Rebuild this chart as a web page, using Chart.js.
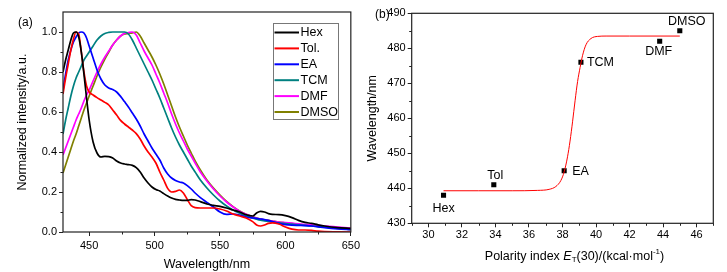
<!DOCTYPE html>
<html>
<head>
<meta charset="utf-8">
<script src="https://cdn.jsdelivr.net/npm/chart.js@4.4.1/dist/chart.umd.min.js"></script>
<style>
  html, body { margin: 0; padding: 0; background: #fff; }
  #wrap { position: relative; width: 727px; height: 272px; }
  #chartA { position: absolute; left: 0; top: 0; }
  #chartB { position: absolute; left: 363px; top: 0; }
</style>
</head>
<body>
<div id="wrap">
  <canvas id="chartA" width="363" height="272"></canvas>
  <canvas id="chartB" width="364" height="272"></canvas>
</div>
<script>
// ---- panel (a): normalized emission spectra ----
const wavelength = [430, 432, 434, 436, 438, 440, 442, 444, 446, 448, 450, 453, 456, 459, 462, 465, 468, 471, 474, 477,
  480, 483, 486, 489, 492, 495, 498, 501, 504, 507, 510, 513, 516, 519, 522, 525, 528, 531, 535, 540,
  545, 550, 555, 560, 565, 570, 575, 578, 581, 584, 587, 590, 595, 600, 605, 610, 615, 620, 625, 630, 640, 650];

const hexVals = [0.80, 0.86, 0.91, 0.96, 0.995, 1.0, 0.975, 0.90, 0.79, 0.67, 0.56, 0.45, 0.395, 0.375, 0.378, 0.377, 0.37, 0.355, 0.345, 0.34,
  0.337, 0.333, 0.322, 0.30, 0.27, 0.245, 0.225, 0.212, 0.205, 0.192, 0.18, 0.17, 0.163, 0.16, 0.158, 0.158, 0.162, 0.16, 0.152, 0.14,
  0.133, 0.128, 0.12, 0.11, 0.10, 0.086, 0.08, 0.095, 0.103, 0.10, 0.092, 0.088, 0.087, 0.082, 0.072, 0.058, 0.048, 0.043, 0.036, 0.03, 0.022, 0.018];
const tolVals = [0.69, 0.77, 0.84, 0.91, 0.965, 1.0, 0.99, 0.90, 0.80, 0.73, 0.70, 0.685, 0.672, 0.66, 0.648, 0.635, 0.61, 0.585, 0.558, 0.54,
  0.525, 0.51, 0.492, 0.465, 0.43, 0.40, 0.375, 0.345, 0.30, 0.26, 0.218, 0.20, 0.203, 0.21, 0.195, 0.162, 0.132, 0.122, 0.12, 0.12,
  0.12, 0.115, 0.105, 0.09, 0.08, 0.07, 0.052, 0.035, 0.03, 0.035, 0.043, 0.046, 0.04, 0.025, 0.014, 0.01, 0.01, 0.008, 0.004, 0.002, 0.001, 0.0];
const eaVals = [0.71, 0.79, 0.86, 0.91, 0.95, 0.975, 0.995, 1.0, 0.995, 0.97, 0.93, 0.87, 0.81, 0.765, 0.735, 0.72, 0.712, 0.70, 0.678, 0.652,
  0.625, 0.595, 0.565, 0.53, 0.49, 0.455, 0.42, 0.39, 0.36, 0.32, 0.29, 0.27, 0.258, 0.25, 0.245, 0.232, 0.215, 0.195, 0.172, 0.148,
  0.125, 0.10, 0.088, 0.09, 0.085, 0.075, 0.07, 0.068, 0.065, 0.062, 0.058, 0.052, 0.043, 0.037, 0.034, 0.033, 0.032, 0.03, 0.026, 0.022, 0.016, 0.012];
const tcmVals = [0.49, 0.56, 0.62, 0.68, 0.73, 0.77, 0.80, 0.83, 0.86, 0.88, 0.90, 0.93, 0.96, 0.98, 0.993, 0.998, 1.0, 1.0, 1.0, 1.0,
  0.99, 0.96, 0.92, 0.88, 0.84, 0.80, 0.76, 0.715, 0.67, 0.62, 0.57, 0.52, 0.475, 0.435, 0.40, 0.365, 0.33, 0.30, 0.26, 0.22,
  0.185, 0.155, 0.13, 0.11, 0.094, 0.08, 0.07, 0.064, 0.059, 0.056, 0.053, 0.05, 0.046, 0.042, 0.039, 0.036, 0.033, 0.03, 0.027, 0.024, 0.019, 0.014];
const dmfVals = [0.385, 0.42, 0.455, 0.49, 0.525, 0.56, 0.59, 0.62, 0.655, 0.685, 0.71, 0.755, 0.80, 0.84, 0.875, 0.905, 0.935, 0.96, 0.98, 0.993,
  0.997, 1.0, 0.985, 0.945, 0.905, 0.87, 0.835, 0.79, 0.745, 0.695, 0.645, 0.59, 0.54, 0.495, 0.455, 0.415, 0.38, 0.345, 0.30, 0.255,
  0.215, 0.18, 0.15, 0.125, 0.104, 0.088, 0.075, 0.069, 0.064, 0.06, 0.057, 0.054, 0.05, 0.047, 0.044, 0.041, 0.038, 0.036, 0.033, 0.03, 0.025, 0.02];
const dmsoVals = [0.295, 0.335, 0.375, 0.415, 0.455, 0.49, 0.53, 0.57, 0.61, 0.645, 0.68, 0.73, 0.78, 0.825, 0.865, 0.90, 0.935, 0.96, 0.98, 0.99,
  0.993, 0.996, 1.0, 0.98, 0.945, 0.91, 0.875, 0.835, 0.79, 0.74, 0.685, 0.63, 0.575, 0.525, 0.48, 0.435, 0.395, 0.355, 0.31, 0.26,
  0.22, 0.185, 0.153, 0.127, 0.105, 0.089, 0.076, 0.07, 0.065, 0.061, 0.058, 0.055, 0.05, 0.046, 0.042, 0.038, 0.035, 0.032, 0.029, 0.025, 0.018, 0.012];

const solventNames = ["Hex", "Tol.", "EA", "TCM", "DMF", "DMSO"];
const solventColors = ["#000000", "#ff0000", "#0000ff", "#008080", "#ff00ff", "#808000"];
const spectra = [hexVals, tolVals, eaVals, tcmVals, dmfVals, dmsoVals];

const xTicksA = [450, 500, 550, 600, 650];
const xMinorA = [475, 525, 575, 625];
const yTicksA = [0, 0.2, 0.4, 0.6, 0.8, 1.0];
const yMinorA = [0.1, 0.3, 0.5, 0.7, 0.9];

// ---- panel (b): emission peak vs. solvent polarity ----
const polarity = [30.9, 33.9, 38.1, 39.1, 43.8, 45.0];
const peakWl = [438, 441, 445, 476, 482, 485];
const pointNames = ["Hex", "Tol", "EA", "TCM", "DMF", "DMSO"];

// fitted sigmoid
const fitX = [30.9, 33, 35, 36.5, 37.2, 37.6, 37.9, 38.1, 38.3, 38.45, 38.6, 38.75, 38.9, 39.05, 39.2, 39.4, 39.7, 40.1, 40.6, 42, 45];
const fitY = [439.3, 439.3, 439.3, 439.4, 439.7, 440.5, 442.2, 444.7, 449, 453.5, 459, 465, 470.5, 474.5, 478, 481, 482.8, 483.4, 483.5, 483.5, 483.5];

const xTicksB = [30, 32, 34, 36, 38, 40, 42, 44, 46];
const xMinorB = [29, 31, 33, 35, 37, 39, 41, 43, 45, 47];
const yTicksB = [430, 440, 450, 460, 470, 480, 490];
const yMinorB = [435, 445, 455, 465, 475, 485];

const FONT = "'Liberation Sans', Arial, sans-serif";
Chart.defaults.font.family = FONT;
Chart.defaults.color = "#000";

// box around the plot + short minor ticks
const framePlugin = {
  id: "frame",
  afterDatasetsDraw(chart, args, opts) {
    const { ctx, chartArea: a, scales } = chart;
    ctx.save();
    ctx.strokeStyle = "#222";
    ctx.lineWidth = 1.2;
    ctx.strokeRect(a.left, a.top, a.right - a.left, a.bottom - a.top);
    ctx.lineWidth = 1;
    ctx.beginPath();
    (opts.xMinor || []).forEach(v => {
      const x = Math.round(scales.x.getPixelForValue(v)) + 0.5;
      ctx.moveTo(x, a.bottom); ctx.lineTo(x, a.bottom + 2.5);
    });
    (opts.yMinor || []).forEach(v => {
      const y = Math.round(scales.y.getPixelForValue(v)) + 0.5;
      ctx.moveTo(a.left, y); ctx.lineTo(a.left - 2.5, y);
    });
    ctx.stroke();
    ctx.restore();
  }
};

function axisOpts(ticksList, fmt, fitSize, horizontal) {
  return {
    type: "linear",
    afterBuildTicks: s => { s.ticks = ticksList.map(v => ({ value: v })); },
    afterFit: s => { if (horizontal) s.height = fitSize; else s.width = fitSize; },
    grid: { drawOnChartArea: false, drawTicks: true, tickLength: 4, tickColor: "#222", tickWidth: 1 },
    border: { display: false },
    ticks: { font: { size: 11 }, color: "#000", padding: 2, maxRotation: 0, autoSkip: false, callback: fmt }
  };
}

// ---- chart (a) ----
const legendPlugin = {
  id: "legendA",
  afterDraw(chart) {
    const { ctx } = chart;
    ctx.save();
    ctx.font = "12px " + FONT;
    ctx.fillStyle = "#000";
    ctx.fillText("(a)", 18, 26);
    const bx = 273.5, by = 23.5, bw = 65, bh = 96;
    ctx.fillStyle = "#fff";
    ctx.fillRect(bx, by, bw, bh);
    ctx.strokeStyle = "#777";
    ctx.lineWidth = 1;
    ctx.strokeRect(bx, by, bw, bh);
    chart.data.datasets.forEach((ds, i) => {
      const y = 32.5 + i * 15.9;
      ctx.strokeStyle = ds.borderColor;
      ctx.lineWidth = 2;
      ctx.beginPath();
      ctx.moveTo(bx + 1, y); ctx.lineTo(bx + 25.5, y);
      ctx.stroke();
      ctx.fillStyle = "#000";
      ctx.font = "12.5px " + FONT;
      ctx.textBaseline = "middle";
      ctx.fillText(ds.label, bx + 27, y + 0.5);
    });
    ctx.restore();
  }
};

const xA = axisOpts(xTicksA, v => String(v), 40, true);
xA.min = 430; xA.max = 650;
xA.ticks.padding = 3;
xA.title = { display: true, text: "Wavelength/nm", font: { size: 12.5 }, color: "#000", padding: { top: 0, bottom: 0 } };
const yA = axisOpts(yTicksA, v => v.toFixed(1), 63, false);
yA.min = 0; yA.max = 1.1;
yA.title = { display: true, text: "Normalized intensity/a.u.", font: { size: 12.5 }, color: "#000", padding: { top: 15, bottom: 0 } };

new Chart(document.getElementById("chartA"), {
  type: "line",
  data: {
    datasets: spectra.map((vals, i) => ({
      label: solventNames[i],
      data: wavelength.map((w, j) => ({ x: w, y: vals[j] })),
      borderColor: solventColors[i],
      borderWidth: 1.7,
      pointRadius: 0,
      cubicInterpolationMode: "monotone",
      fill: false
    }))
  },
  options: {
    responsive: false,
    animation: false,
    layout: { padding: { left: 0, top: 12, right: 10, bottom: 0 } },
    scales: { x: xA, y: yA },
    plugins: {
      legend: { display: false },
      tooltip: { enabled: false },
      frame: { xMinor: xMinorA, yMinor: yMinorA }
    }
  },
  plugins: [framePlugin, legendPlugin]
});

// ---- chart (b) ----
const labelOffsets = [[0, 13, "center"], [1.5, -9, "center"], [8, 1, "left"], [6, 0, "left"], [-1, 10.5, "center"], [7, -9.5, "center"]];

const pointLabelPlugin = {
  id: "pointLabels",
  afterDraw(chart) {
    const { ctx, scales } = chart;
    ctx.save();
    ctx.fillStyle = "#000";
    ctx.font = "12px " + FONT;
    ctx.textBaseline = "middle";
    ctx.fillText("(b)", 12, 15);
    ctx.font = "12.5px " + FONT;
    pointNames.forEach((name, i) => {
      const px = scales.x.getPixelForValue(polarity[i]);
      const py = scales.y.getPixelForValue(peakWl[i]);
      const [dx, dy, al] = labelOffsets[i];
      ctx.textAlign = al;
      ctx.fillText(name, px + dx, py + dy);
    });
    // x title: Polarity index E_T(30)/(kcal·mol^-1)
    const parts = [
      ["Polarity index ", "12.5px " + FONT, 0],
      ["E", "italic 12.5px " + FONT, 0],
      ["T", "8px " + FONT, 3],
      ["(30)/(kcal\u00b7mol", "12.5px " + FONT, 0],
      ["-1", "8px " + FONT, -5],
      [")", "12.5px " + FONT, 0]
    ];
    ctx.textAlign = "left";
    let total = 0;
    parts.forEach(p => { ctx.font = p[1]; total += ctx.measureText(p[0]).width; });
    let x = 211.5 - total / 2;
    const y = 257;
    parts.forEach(p => {
      ctx.font = p[1];
      ctx.fillText(p[0], x, y + p[2]);
      x += ctx.measureText(p[0]).width;
    });
    ctx.restore();
  }
};

const xB = axisOpts(xTicksB, v => String(v), 272 - 223.3, true);
xB.min = 29; xB.max = 47;
xB.ticks.padding = 1;
const yB = axisOpts(yTicksB, v => String(v), 48.7, false);
yB.min = 430; yB.max = 490;
yB.title = { display: true, text: "Wavelength/nm", font: { size: 12.5 }, color: "#000", padding: { top: 2.5, bottom: 0 } };

new Chart(document.getElementById("chartB"), {
  type: "scatter",
  data: {
    datasets: [
      {
        label: "fit",
        data: fitX.map((x, i) => ({ x: x, y: fitY[i] })),
        showLine: true,
        borderColor: "#ff0000",
        borderWidth: 1,
        pointRadius: 0,
        cubicInterpolationMode: "monotone"
      },
      {
        label: "peak",
        data: polarity.map((x, i) => ({ x: x, y: peakWl[i] })),
        pointStyle: "rect",
        pointRadius: 3.6,
        backgroundColor: "#000",
        borderColor: "#000",
        borderWidth: 0
      }
    ]
  },
  options: {
    responsive: false,
    animation: false,
    layout: { padding: { left: 0, top: 13.3, right: 13.7, bottom: 0 } },
    scales: { x: xB, y: yB },
    plugins: {
      legend: { display: false },
      tooltip: { enabled: false },
      frame: { xMinor: xMinorB, yMinor: yMinorB }
    }
  },
  plugins: [framePlugin, pointLabelPlugin]
});
</script>
</body>
</html>
